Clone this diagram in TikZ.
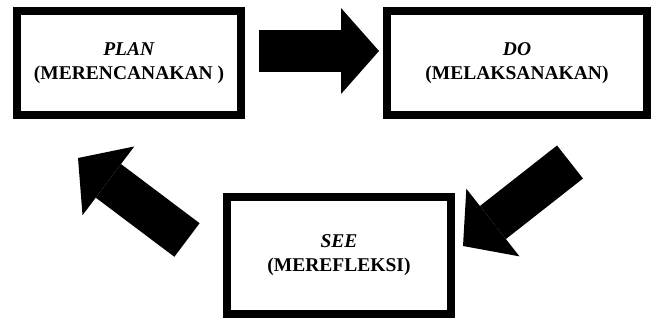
\documentclass[tikz,border=0pt]{standalone}
\usepackage{fontspec}
\setmainfont{Liberation Serif}
\usetikzlibrary{positioning,arrows.meta}

\begin{document}
\begin{tikzpicture}[x=1pt,y=-1pt,
    stage/.style={draw,line width=8pt,fill=white,align=center,minimum width=224pt,minimum height=104pt,
        font=\fontsize{19.5}{24}\selectfont\bfseries},
    bigarrow/.style={line width=42pt,-{Triangle[length=38pt,width=86pt,line width=0pt]}}]
    \useasboundingbox (0,0) rectangle (652,322);
    \node[stage] (plan) at (129,63) {\textit{PLAN}\\(MERENCANAKAN )};
    \node[stage,minimum width=260pt,right=138pt of plan] (do) {\textit{DO}\\(MELAKSANAKAN)};
    \node[stage,minimum height=117pt] (see) at (339,255.5) {\textit{SEE}\\(MEREFLEKSI)};
    % ends of the big arrows
    \coordinate (planout) at (259,51);
    \coordinate (doin) at (379,51);
    \coordinate (doout) at (570,162);
    \coordinate (seein) at (463,246);
    \coordinate (seeout) at (187,240);
    \coordinate (planin) at (78,158);
    \draw[bigarrow] (planout) -- (doin);
    \draw[bigarrow] (doout) -- (seein);
    \draw[bigarrow] (seeout) -- (planin);
\end{tikzpicture}
\end{document}
